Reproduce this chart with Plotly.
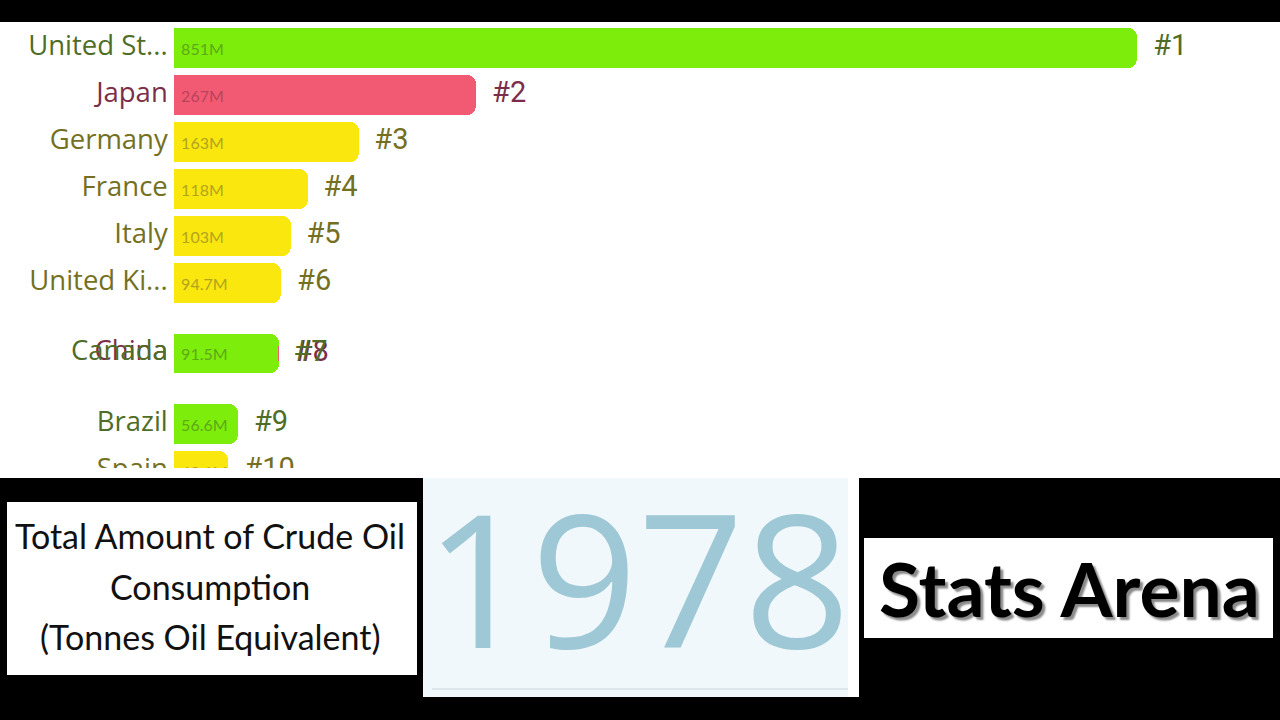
import plotly.graph_objects as go

# ---------------- data ----------------
countries = ["United St...", "Japan", "Germany", "France", "Italy", "United Ki...",
             "China", "Canada", "Brazil", "Spain"]
values_m = [851, 267, 163, 118, 103, 94.7, 92.6, 91.5, 56.6, 48.1]
value_labels = ["851M", "267M", "163M", "118M", "103M", "94.7M", "92.6M", "91.5M", "56.6M", "48.1M"]
rank_labels = ["#1", "#2", "#3", "#4", "#5", "#6", "#8", "#7", "#9", "#10"]
display_rank = [1, 2, 3, 4, 5, 6, 7.5, 7.5, 9, 10]   # China/Canada mid-swap
groups = ["g", "r", "y", "y", "y", "y", "r", "g", "g", "y"]
year = "1978"
title_lines = ["Total Amount of Crude Oil", "Consumption", "(Tonnes Oil Equivalent)"]
brand = "Stats Arena"

# ---------------- styles ----------------
BAR = {"g": "#7ded0b", "r": "#f25a73", "y": "#f9e70e"}
LBL = {"g": "#4f6d26", "r": "#7c2e49", "y": "#74701f"}
VAL = {"g": "#5da917", "r": "#b9435c", "y": "#b2a41d"}

W, H = 1280, 720
PX0 = 174          # pixel of x=0
SCALE = 1.132      # pixels per million
ROW = 47           # pixels per rank
YOFF = 1           # pixel offset of rank rows

def fx(px):
    return px / W

def fy(py):
    return 1 - py / H

fig = go.Figure()

# bars with their value labels (drawn together so later bars cover earlier labels)
fig.add_trace(go.Bar(
    x=values_m, y=display_rank, orientation="h", width=0.85,
    marker=dict(color=[BAR[g] for g in groups], cornerradius=9, line=dict(width=0)),
    text=["&nbsp;" + t for t in value_labels], textposition="inside",
    insidetextanchor="start", textangle=0,
    textfont=dict(family="Lato", size=16, color=[VAL[g] for g in groups]),
    hoverinfo="skip", showlegend=False, cliponaxis=True,
))

# country labels
fig.add_trace(go.Scatter(
    x=[-5.5] * len(values_m), y=display_rank, mode="text", text=countries,
    textposition="middle left",
    textfont=dict(family="Open Sans", size=27.5, color=[LBL[g] for g in groups]),
    hoverinfo="skip", showlegend=False, cliponaxis=True,
))

# rank labels
fig.add_trace(go.Scatter(
    x=[v + 14 for v in values_m], y=display_rank, mode="text", text=rank_labels,
    textposition="middle right",
    textfont=dict(family="Roboto", size=29, color=[LBL[g] for g in groups]),
    hoverinfo="skip", showlegend=False, cliponaxis=True,
))

shapes = [
    # white chart band
    dict(type="rect", xref="paper", yref="paper", x0=0, x1=1, y0=fy(478), y1=fy(22),
         fillcolor="white", line=dict(width=0), layer="below"),
    # left title box
    dict(type="rect", xref="paper", yref="paper", x0=fx(7), x1=fx(417), y0=fy(675), y1=fy(502),
         fillcolor="white", line=dict(width=0), layer="above"),
    # middle year panel
    dict(type="rect", xref="paper", yref="paper", x0=fx(423), x1=fx(859), y0=fy(697), y1=fy(478),
         fillcolor="white", line=dict(width=0), layer="above"),
    dict(type="rect", xref="paper", yref="paper", x0=fx(423), x1=fx(848), y0=fy(697), y1=fy(478),
         fillcolor="#f0f8fb", line=dict(width=0), layer="above"),
    dict(type="line", xref="paper", yref="paper", x0=fx(432), x1=fx(848), y0=fy(689), y1=fy(689),
         line=dict(color="#d8e4e8", width=1.5), layer="above"),
    # right brand box
    dict(type="rect", xref="paper", yref="paper", x0=fx(864), x1=fx(1273), y0=fy(638), y1=fy(538),
         fillcolor="white", line=dict(width=0), layer="above"),
]

annotations = []
for text, py in zip(title_lines, [535, 586, 636]):
    annotations.append(dict(xref="paper", yref="paper", x=fx(210), y=fy(py), text=text,
                            showarrow=False, xanchor="center", yanchor="middle",
                            font=dict(family="Lato", size=34, color="#111111")))
annotations.append(dict(xref="paper", yref="paper", x=fx(637), y=fy(575), text=year,
                        showarrow=False, xanchor="center", yanchor="middle",
                        font=dict(family="Open Sans", size=186, color="#9ec8d6")))
annotations.append(dict(xref="paper", yref="paper", x=fx(1069), y=fy(588), text="<b>" + brand + "</b>",
                        showarrow=False, xanchor="center", yanchor="middle",
                        font=dict(family="Lato", size=75, color="#000000",
                                  shadow="3px 3px 2px #8a8a8a")))

fig.update_layout(
    width=W, height=H,
    margin=dict(l=0, r=0, t=0, b=0),
    paper_bgcolor="black", plot_bgcolor="white",
    xaxis=dict(domain=[0, 1], range=[-PX0 / SCALE, (W - PX0) / SCALE], visible=False,
               showgrid=False, zeroline=False, fixedrange=True),
    yaxis=dict(domain=[fy(468), fy(22)], range=[(468 - YOFF) / ROW, (22 - YOFF) / ROW], visible=False,
               showgrid=False, zeroline=False, fixedrange=True),
    shapes=shapes, annotations=annotations,
    barmode="overlay", bargap=0,
    uniformtext=dict(minsize=16, mode="show"),
)

fig.write_html("out.html", config={"displayModeBar": False},
               post_script="document.body.style.margin='0';document.body.style.overflow='hidden';")
